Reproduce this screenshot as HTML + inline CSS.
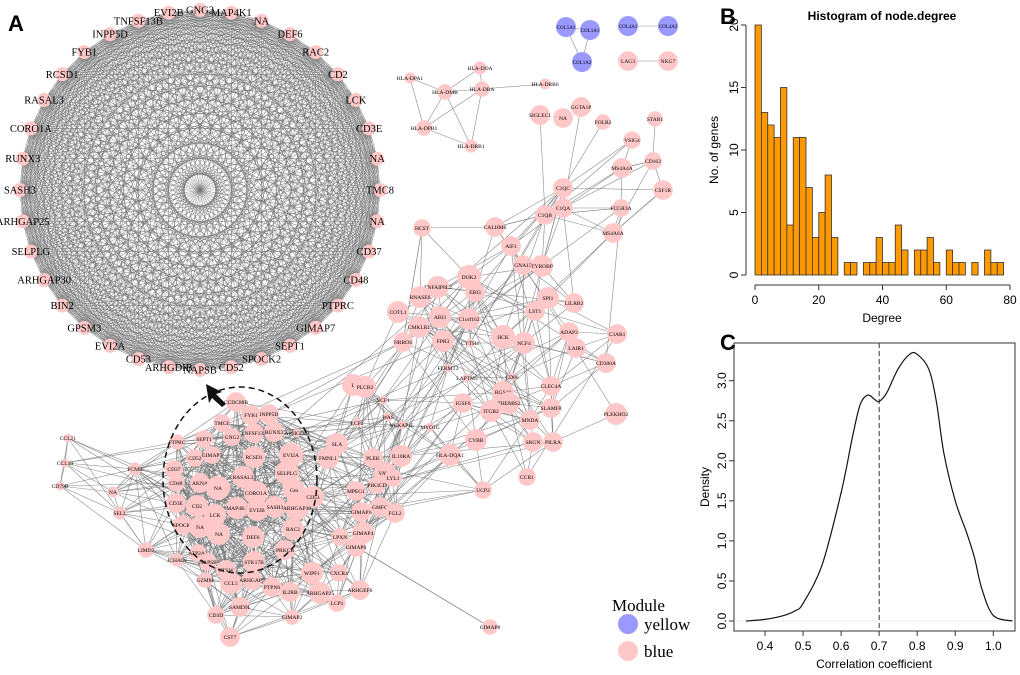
<!DOCTYPE html>
<html><head><meta charset="utf-8"><style>
body{margin:0;background:#fff;}
svg{display:block;font-family:"Liberation Serif",serif;}
.s{font-family:"Liberation Sans",sans-serif;}
</style></head><body>
<svg id="fig" width="1020" height="675" viewBox="0 0 1020 675">
<g id="net"></g>
<g id="hist"></g>
<g id="dens"></g>
<text x="8" y="31" class="s" font-size="22" font-weight="bold">A</text>
<text x="720" y="24" class="s" font-size="22" font-weight="bold">B</text>
<text x="720" y="350" class="s" font-size="22" font-weight="bold">C</text>
<g>
<text x="612" y="611" font-size="17">Module</text>
<circle cx="628" cy="624" r="10" fill="#9999ff"/>
<text x="644" y="630" font-size="17">yellow</text>
<circle cx="628" cy="651" r="10" fill="#ffc8c8"/>
<text x="644" y="657" font-size="17">blue</text>
</g>
</svg>
<script>
const NS="http://www.w3.org/2000/svg";
function mk(p,t,a){const e=document.createElementNS(NS,t);for(const k in a)e.setAttribute(k,a[k]);p.appendChild(e);return e;}

// ---------- Histogram data ----------
const histBinStart=[0,2,4,6,8,10,12,14,16,18,20,22,24,26,28,30,32,34,36,38,40,42,44,46,48,50,52,54,56,58,60,62,64,66,68,70,72,74,76];
const histCounts=[20,13,12,11,15,4,11,11,7,3,5,8,3,0,1,1,0,1,1,3,1,1,4,2,0,2,2,3,1,0,2,1,1,0,1,0,2,1,1];
const histXTicks=[0,20,40,60,80];
const histYTicks=[0,5,10,15,20];
// ---------- Density data ----------
const densX=[0.35,0.4,0.45,0.48,0.5,0.55,0.6,0.63,0.65,0.67,0.69,0.7,0.72,0.75,0.78,0.8,0.83,0.85,0.87,0.9,0.93,0.95,0.97,1.0,1.05];
const densY=[0,0.02,0.07,0.13,0.22,0.7,1.6,2.3,2.7,2.82,2.76,2.74,2.85,3.15,3.33,3.33,3.15,2.75,2.1,1.5,1.1,0.8,0.4,0.07,0];
const densXTicks=[0.4,0.5,0.6,0.7,0.8,0.9,1.0];
const densYTicks=[0,0.5,1.0,1.5,2.0,2.5,3.0];
const cutoff=0.7;

// ---------- Histogram ----------
(function(){
const g=document.getElementById('hist');
const hx=v=>755+v*(255/80), hy=v=>275-v*12.5;
mk(g,'text',{x:882,y:20,'text-anchor':'middle','font-size':12,'font-weight':'bold',class:'s'}).textContent='Histogram of node.degree';
histCounts.forEach((c,i)=>{if(c<=0)return;
 const r=mk(g,'rect',{x:hx(histBinStart[i]),y:hy(c),width:hx(2)-hx(0),height:hy(0)-hy(c),fill:'#ff9900',stroke:'#333','stroke-width':0.8});
 
 });
mk(g,'line',{x1:hx(0),x2:hx(80),y1:285,y2:285,stroke:'#333'});
histXTicks.forEach(t=>{mk(g,'line',{x1:hx(t),x2:hx(t),y1:285,y2:290,stroke:'#333'});
 const e=mk(g,'text',{x:hx(t),y:304,'text-anchor':'middle','font-size':12,class:'s'});e.textContent=t;
 });
mk(g,'line',{x1:746,x2:746,y1:hy(0),y2:hy(20),stroke:'#333'});
histYTicks.forEach(t=>{mk(g,'line',{x1:741,x2:746,y1:hy(t),y2:hy(t),stroke:'#333'});
 const e=mk(g,'text',{x:0,y:0,'text-anchor':'middle','font-size':12,class:'s',transform:`translate(738,${hy(t)}) rotate(-90)`});e.textContent=t;
 });
const xt=mk(g,'text',{x:882,y:322,'text-anchor':'middle','font-size':12,class:'s'});xt.textContent='Degree';

const yt=mk(g,'text',{x:0,y:0,'text-anchor':'middle','font-size':12,class:'s',transform:'translate(718,150) rotate(-90)'});yt.textContent='No. of genes';

})();

// ---------- Density ----------
(function(){
const g=document.getElementById('dens');
const dx=v=>765+(v-0.4)*380.5, dy=v=>621-v*80.1;
mk(g,'rect',{x:734,y:343,width:281,height:288,fill:'none',stroke:'#333'});
mk(g,'line',{x1:734,x2:1015,y1:dy(0),y2:dy(0),stroke:'#ddd','stroke-width':0.6});
mk(g,'line',{x1:dx(cutoff),x2:dx(cutoff),y1:343,y2:631,stroke:'#333','stroke-dasharray':'5,3'});
const P=densX.map((v,i)=>[dx(v),dy(densY[i])]);
let d='M'+P[0][0].toFixed(1)+','+P[0][1].toFixed(1);
for(let i=0;i<P.length-1;i++){const p0=P[Math.max(0,i-1)],p1=P[i],p2=P[i+1],p3=P[Math.min(P.length-1,i+2)];
 const c1=[p1[0]+(p2[0]-p0[0])/6,p1[1]+(p2[1]-p0[1])/6],c2=[p2[0]-(p3[0]-p1[0])/6,p2[1]-(p3[1]-p1[1])/6];
 d+=`C${c1[0].toFixed(1)},${c1[1].toFixed(1)} ${c2[0].toFixed(1)},${c2[1].toFixed(1)} ${p2[0].toFixed(1)},${p2[1].toFixed(1)}`;}
const p=mk(g,'path',{d:d,fill:'none',stroke:'#111','stroke-width':1.2,'stroke-linejoin':'round'});

densXTicks.forEach(t=>{mk(g,'line',{x1:dx(t),x2:dx(t),y1:631,y2:636,stroke:'#333'});
 const e=mk(g,'text',{x:dx(t),y:650,'text-anchor':'middle','font-size':12,class:'s'});e.textContent=t.toFixed(1);
 });
densYTicks.forEach(t=>{mk(g,'line',{x1:729,x2:734,y1:dy(t),y2:dy(t),stroke:'#333'});
 const e=mk(g,'text',{x:0,y:0,'text-anchor':'middle','font-size':12,class:'s',transform:`translate(726,${dy(t)}) rotate(-90)`});e.textContent=t.toFixed(1);
 });
const xt=mk(g,'text',{x:874,y:668,'text-anchor':'middle','font-size':12,class:'s'});xt.textContent='Correlation coefficient';

const yt=mk(g,'text',{x:0,y:0,'text-anchor':'middle','font-size':12,class:'s',transform:'translate(709,487) rotate(-90)'});yt.textContent='Density';

})();

// ---------- Network ----------
(function(){
const g=document.getElementById('net');
const eg=mk(g,'g',{stroke:'#777','stroke-width':0.6,'stroke-opacity':0.85});
const ng=mk(g,'g',{});
const circ=['GNG2','MAP4K1','NA','DEF6','RAC2','CD2','LCK','CD3E','NA','TMC8','NA','CD37','CD48','PTPRC','GIMAP7','SEPT1','SPOCK2','CD52','NAPSB','ARHGDIB','CD53','EVI2A','GPSM3','BIN2','ARHGAP30','SELPLG','ARHGAP25','SASH3','RUNX3','CORO1A','RASAL3','RCSD1','FYB1','INPP5D','TNFSF13B','EVI2B'];
const cx=200,cy=190,R=180,pts=[];
circ.forEach((n,i)=>{const a=i/circ.length*2*Math.PI;pts.push([cx+R*Math.sin(a),cy-R*Math.cos(a)]);});
for(let i=0;i<pts.length;i++)for(let j=i+1;j<pts.length;j++)mk(eg,'line',{x1:pts[i][0],y1:pts[i][1],x2:pts[j][0],y2:pts[j][1]});
circ.forEach((n,i)=>{const c=mk(ng,'circle',{cx:pts[i][0],cy:pts[i][1],r:7,fill:'#ffc8c8'});
 
 const t=mk(ng,'text',{x:pts[i][0],y:pts[i][1]+3.5,'text-anchor':'middle','font-size':10.5});t.textContent=n;
 });
const N=[['CCDC88B',236,402,9],['FYB1',251,415,9],['INPP5D',269,414,9],['TMCE',222,423,8],['GNG2',232,437,8],['TNFSF13B',254,433,9],['RUNX3',274,432,9],['ARHGDIB',297,433,4],['PTPRC',177,442,7],['SEPT1',204,439,8],['CD52',195,458,8],['GIMAP7',212,455,8],['RCSD1',254,457,10],['EVI2A',291,455,11],['SLA',337,444,10],['FMNL1',328,458,10],['CD37',174,469,8],['CD48',176,483,8],['AKNA',200,483,9],['NA',218,488,11],['RASAL3',243,477,10],['SELPLG',287,473,11],['Gm',294,490,10],['CORO1A',256,493,11],['CD53',313,497,10],['CD3E',176,503,9],['CD2',197,506,10],['MAP4K1',237,508,10],['EVI2B',257,510,10],['SASH3',275,507,10],['ARHGAP30',297,508,11],['LCK',215,515,10],['SPOCK2',183,525,9],['NA',200,527,10],['NA',219,534,10],['DEF6',253,537,10],['RAC2',293,529,10],['PRKCB',285,550,9],['ATP2A3',198,553,8],['JCHAIN',177,560,6],['LIMD2',146,550,7],['NAPSB',208,562,8],['CTSW',226,570,9],['STK17B',254,562,10],['GZMM',205,580,7],['CCL5',231,583,10],['ARHGAP9',252,580,9],['PTPN6',272,587,9],['IL2RB',290,592,9],['ARHGAP25',320,593,10],['WIPF1',312,573,10],['CXCR4',339,573,8],['LPXN',340,537,8],['GIMAP6',356,547,9],['GIMAP4',363,533,10],['GIMAP1',361,512,9],['MPEG1',356,491,9],['PLEK',373,458,9],['VAV1',385,473,10],['GMFG',380,507,9],['FGL2',395,513,9],['ARHGEF6',360,590,9],['LCP1',337,603,8],['SAMD9L',240,607,9],['CD3D',216,615,8],['CST7',230,637,9],['GIMAP2',292,617,7],['FCMR',135,469,6],['NA',113,492,5],['SELL',120,513,6],['CCL21',68,438,4],['CCL19',65,463,4],['CD79B',60,486,4],
['SIGLEC1',540,115,9],['NA',563,118,9],['GGTA1P',581,107,9],['FOLR2',603,122,7],['STAB1',655,119,7],['VSIG4',632,140,8],['CD163',653,161,8],['MS4A4A',622,168,9],['C1QC',563,188,9],['CSF1R',663,190,9],['C1QA',563,208,9],['FCGR3A',621,208,8],['C1QB',545,215,9],['MS4A6A',613,233,9],['HCST',422,228,8],['CALHM6',495,227,9],['AIF1',511,246,9],['GNA15',523,265,9],['TYROBP',542,266,10],['DOK2',469,277,11],['TNFAIP8L2',438,287,10],['EBI3',475,292,9],['RNASE6',420,297,10],['SPI1',548,298,10],['LILRB2',574,303,9],['COTL1',398,312,10],['LST1',535,311,9],['ABI3',440,317,10],['C1orf162',469,319,10],['CMKLR1',419,327,10],['ADAP2',569,332,9],['C3AR1',617,334,9],['HCK',503,337,11],['FPR3',443,341,10],['CYTH4',470,343,4],['NCF4',524,343,10],['NRROS',403,342,9],['LAIR1',576,348,9],['CD300A',606,363,9],['FERMT3',448,368,4],['LAPTM5',467,378,4],['CD86',512,377,4],['L',353,385,10],['PLCB2',365,387,10],['CLEC4A',551,386,9],['RGS10',503,392,10],['NCF1',383,400,4],['IGSF6',463,403,9],['THEMIS2',509,403,10],['SLAMF8',551,408,9],['ITGB2',491,411,10],['PLEKHO2',616,414,10],['WAS',388,417,4],['MNDA',530,420,9],['LCP2',357,423,4],['NCKAP1L',402,425,4],['MYO1G',430,427,4],['CYBB',476,440,10],['SRGN',533,442,9],['PILRA',553,442,9],['IL10RA',401,456,10],['HLA-DQA1',450,455,10],['CCR1',527,477,8],['UCP2',483,490,8],['LYL1',393,478,8],['PIK3CD',377,485,8],['GIMAP8',490,627,7],
['HLA-DOA',480,68,6],['HLA-DPA1',410,78,5],['HLA-DMB',445,92,7],['HLA-DRA',482,89,7],['HLA-DRB6',545,84,5],['HLA-DPB1',424,128,7],['HLA-DRB1',471,146,6],['LAG3',628,61,9],['NKG7',668,61,9]];
const Y=[['COL5A1',566,27,10],['COL1A1',590,30,10],['COL1A2',582,62,10],['COL4A1',628,26,10],['COL4A2',668,26,10]];
function hsh(i,j){return ((i*73856093)^(j*19349663))>>>0;}
const L=N.length;
for(let i=0;i<L;i++)for(let j=i+1;j<L;j++){
 const a=N[i],b=N[j];const d=Math.hypot(a[1]-b[1],a[2]-b[2]);
 if(a[2]<160||b[2]<160)continue;
 const dense=a[1]<330&&b[1]<330&&a[2]>395&&b[2]>395;
 let lim=dense?85:85; const h=hsh(i,j)%100;
 if(d<lim&&h<(dense?85:45)||(d<200&&h<6)) mk(eg,'line',{x1:a[1],y1:a[2],x2:b[1],y2:b[2]});
}
const idx=n=>N.findIndex(x=>x[0]==n);
[['HLA-DOA','HLA-DMB'],['HLA-DOA','HLA-DRA'],['HLA-DPA1','HLA-DMB'],['HLA-DPA1','HLA-DPB1'],['HLA-DMB','HLA-DRA'],['HLA-DRA','HLA-DRB6'],['HLA-DMB','HLA-DPB1'],['HLA-DMB','HLA-DRB1'],['HLA-DRA','HLA-DPB1'],['HLA-DRA','HLA-DRB1'],['HLA-DPB1','HLA-DRB1'],['LAG3','NKG7'],['GIMAP6','GIMAP8'],['SIGLEC1','C1QB'],['NA','C1QC'],['GGTA1P','C1QA'],['FOLR2','C1QC'],['STAB1','CD163'],['HCST','DOK2'],['HCST','NRROS'],['VSIG4','C1QC'],['VSIG4','C1QB'],['MS4A4A','C1QA'],['CSF1R','C1QC'],['MS4A6A','SPI1'],['CD163','C1QA'],['FCGR3A','C1QB'],['MS4A4A','C1QB'],['CSF1R','MS4A6A'],['VSIG4','MS4A4A'],['CD163','MS4A4A'],['C1QC','AIF1'],['C1QB','CALHM6'],['C1QA','TYROBP'],['C1QB','HCK'],['C1QA','LILRB2']].forEach(p=>{const a=N[idx(p[0])],b=N[idx(p[1])];if(a&&b)mk(eg,'line',{x1:a[1],y1:a[2],x2:b[1],y2:b[2]});});
[[0,1],[0,2],[1,2],[3,4]].forEach(p=>mk(eg,'line',{x1:Y[p[0]][1],y1:Y[p[0]][2],x2:Y[p[1]][1],y2:Y[p[1]][2]}));
N.forEach(n=>{const c=mk(ng,'circle',{cx:n[1],cy:n[2],r:n[3]*1.1,fill:'#ffc8c8'});
 
 const t=mk(ng,'text',{x:n[1],y:n[2]+2,'text-anchor':'middle','font-size':5.5});t.textContent=n[0];
 });
Y.forEach(n=>{const c=mk(ng,'circle',{cx:n[1],cy:n[2],r:n[3],fill:'#9999ff'});
 
 const t=mk(ng,'text',{x:n[1],y:n[2]+2,'text-anchor':'middle','font-size':5});t.textContent=n[0];
 });
const el=mk(g,'ellipse',{cx:240,cy:480,rx:77,ry:93,fill:'none',stroke:'#111','stroke-width':1.5,'stroke-dasharray':'6,4'});

const ar=mk(g,'path',{d:'M206,384 L222,392 L216,394 L226,404 L222,407 L212,398 L209,403 Z',fill:'#111'});

})();
</script>
</body></html>
